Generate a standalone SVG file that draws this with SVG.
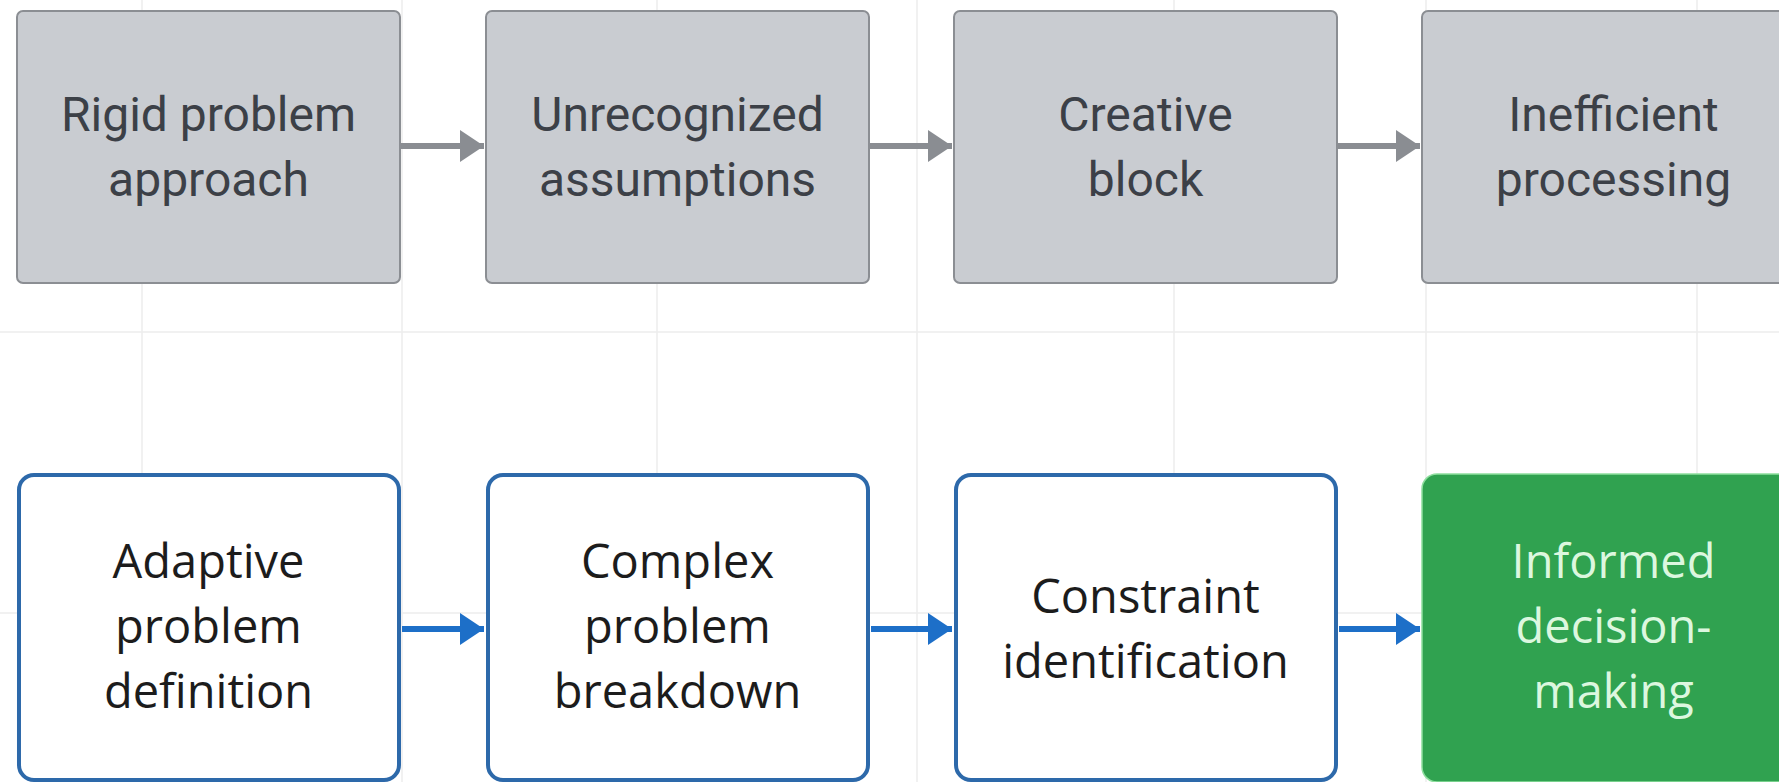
<svg xmlns="http://www.w3.org/2000/svg" width="1779" height="782" viewBox="0 0 1779 782">
<defs>
<marker id="ahGray" markerUnits="userSpaceOnUse" viewBox="0 0 24 32" refX="24" refY="16" markerWidth="24" markerHeight="32" orient="auto"><path d="M0,0 L24,16 L0,32 z" fill="#8a8d92"/></marker>
<marker id="ahBlue" markerUnits="userSpaceOnUse" viewBox="0 0 24 32" refX="24" refY="16" markerWidth="24" markerHeight="32" orient="auto"><path d="M0,0 L24,16 L0,32 z" fill="#1d6fc8"/></marker>
<style>
.grid{stroke:#ececec;stroke-width:1.5}
.gbox{fill:#c9ccd1;stroke:#8b8e93;stroke-width:2}
.bbox{fill:#ffffff;stroke:#2d69aa;stroke-width:4}
.grbox{fill:#30a250;stroke:#8fdf9f;stroke-width:1.5}
.gt{font-family:Roboto,"Liberation Sans",sans-serif;font-size:48px;fill:#3c4047;text-anchor:middle}
.bt{font-family:"Open Sans","Liberation Sans",sans-serif;font-size:47px;fill:#1c1c1c;text-anchor:middle}
.grt{font-family:"Open Sans","Liberation Sans",sans-serif;font-size:47px;fill:#dcf7df;text-anchor:middle}
.ag{stroke:#8a8d92;stroke-width:6;fill:none;marker-end:url(#ahGray)}
.ab{stroke:#1d6fc8;stroke-width:6;fill:none;marker-end:url(#ahBlue)}
</style>
</defs>
<rect width="1779" height="782" fill="#ffffff"/>
<g id="grid">
<line class="grid" x1="142" y1="0" x2="142" y2="782"/>
<line class="grid" x1="402" y1="0" x2="402" y2="782"/>
<line class="grid" x1="657" y1="0" x2="657" y2="782"/>
<line class="grid" x1="917" y1="0" x2="917" y2="782"/>
<line class="grid" x1="1174" y1="0" x2="1174" y2="782"/>
<line class="grid" x1="1426" y1="0" x2="1426" y2="782"/>
<line class="grid" x1="1697" y1="0" x2="1697" y2="782"/>
<line class="grid" x1="0" y1="332" x2="1779" y2="332"/>
<line class="grid" x1="0" y1="613" x2="1779" y2="613"/>
</g>
<g id="connectors">
<line class="ag" x1="401" y1="146" x2="484" y2="146"/>
<line class="ag" x1="870" y1="146" x2="952" y2="146"/>
<line class="ag" x1="1338" y1="146" x2="1420" y2="146"/>
<line class="ab" x1="402" y1="629" x2="484" y2="629"/>
<line class="ab" x1="871" y1="629" x2="952" y2="629"/>
<line class="ab" x1="1339" y1="629" x2="1420" y2="629"/>
</g>
<g id="n1"><rect class="gbox" x="17" y="11" width="383" height="272" rx="6"/><text class="gt" x="208.5" y="131">Rigid problem</text><text class="gt" x="208.5" y="196">approach</text></g>
<g id="n2"><rect class="gbox" x="486" y="11" width="383" height="272" rx="6"/><text class="gt" x="677.5" y="131">Unrecognized</text><text class="gt" x="677.5" y="196">assumptions</text></g>
<g id="n3"><rect class="gbox" x="954" y="11" width="383" height="272" rx="6"/><text class="gt" x="1145.5" y="131">Creative</text><text class="gt" x="1145.5" y="196">block</text></g>
<g id="n4"><rect class="gbox" x="1422" y="11" width="383" height="272" rx="6"/><text class="gt" x="1613.5" y="131">Inefficient</text><text class="gt" x="1613.5" y="196">processing</text></g>
<g id="n5"><rect class="bbox" x="19" y="475" width="380" height="305" rx="15"/><text class="bt" x="208.5" y="578">Adaptive</text><text class="bt" x="208.5" y="643">problem</text><text class="bt" x="208.5" y="708">definition</text></g>
<g id="n6"><rect class="bbox" x="488" y="475" width="380" height="305" rx="15"/><text class="bt" x="677.5" y="578">Complex</text><text class="bt" x="677.5" y="643">problem</text><text class="bt" x="677.5" y="708">breakdown</text></g>
<g id="n7"><rect class="bbox" x="956" y="475" width="380" height="305" rx="15"/><text class="bt" x="1145.5" y="613">Constraint</text><text class="bt" x="1145.5" y="678">identification</text></g>
<g id="n8"><rect class="grbox" x="1422" y="474" width="383" height="308" rx="15"/><text class="grt" x="1613.5" y="578">Informed</text><text class="grt" x="1613.5" y="643">decision-</text><text class="grt" x="1613.5" y="708">making</text></g>
</svg>
